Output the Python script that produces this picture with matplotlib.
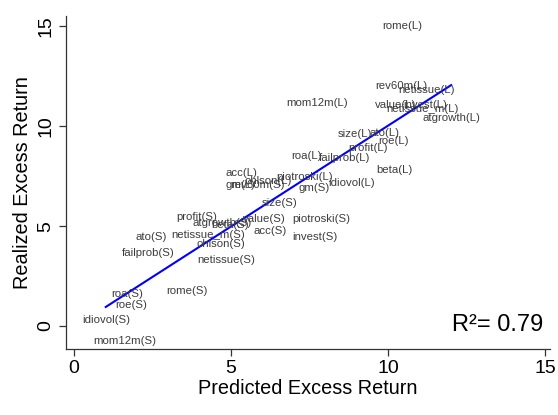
import matplotlib
matplotlib.use("Agg")
import matplotlib.pyplot as plt
import numpy as np

plt.rcParams['font.family'] = ['Liberation Sans', 'DejaVu Sans']

labels = ["rome(L)", "rev60m(L)", "netissue(L)", "mom12m(L)", "value(L)", "invest(L)",
          "netissue_m(L)", "atgrowth(L)", "size(L)", "ato(L)", "roe(L)", "profit(L)",
          "roa(L)", "failprob(L)", "beta(L)", "piotroski(L)", "idiovol(L)", "acc(L)",
          "gm(L)", "ohlson(L)",
          "rev60m(S)", "gm(S)", "size(S)", "profit(S)", "atgrowth(S)", "beta(S)",
          "value(S)", "piotroski(S)", "acc(S)", "invest(S)", "ato(S)", "netissue_m(S)",
          "ohlson(S)", "failprob(S)", "netissue(S)", "roa(S)", "rome(S)", "roe(S)",
          "idiovol(S)", "mom12m(S)"]
predicted = [10.45, 10.41, 11.24, 7.74, 10.25, 11.18,
             11.11, 12.01, 8.95, 9.90, 10.19, 9.36,
             7.42, 8.63, 10.19, 7.36, 8.85, 5.35,
             5.29, 6.18,
             5.86, 7.64, 6.56, 3.92, 4.71, 4.97,
             6.08, 7.87, 6.24, 7.68, 2.48, 4.27,
             4.68, 2.36, 4.84, 1.69, 3.60, 1.82,
             1.02, 1.62]
realized = [15.00, 12.00, 11.80, 11.15, 11.05, 11.05,
            10.85, 10.40, 9.60, 9.65, 9.25, 8.90,
            8.50, 8.40, 7.80, 7.45, 7.15, 7.65,
            7.05, 7.25,
            7.05, 6.90, 6.15, 5.45, 5.15, 5.05,
            5.35, 5.35, 4.75, 4.45, 4.45, 4.55,
            4.10, 3.65, 3.30, 1.60, 1.75, 1.05,
            0.30, -0.75]
ticks = [0, 5, 10, 15]
r2_text = "0.79"

fig = plt.figure(figsize=(5.58, 4.15), dpi=100)
ax = fig.add_axes([0.118, 0.159, 0.868, 0.802])

x = np.array(predicted)
y = np.array(realized)
for lab, xi, yi in zip(labels, x, y):
    ax.text(xi, yi, lab, ha='center', va='center', fontsize=8.2, color='#3c3c3c')

b, a = np.polyfit(x, y, 1)
xx = np.array([x.min(), x.max()])
ax.plot(xx, a + b * xx, color='#0000ff', lw=1.5)

ax.set_xlim(-0.25, 15.16)
ax.set_ylim(-1.15, 15.5)
ax.set_xticks(ticks)
ax.set_yticks(ticks)
ax.set_xticklabels([str(t) for t in ticks], fontsize=14)
ax.set_yticklabels([str(t) for t in ticks], fontsize=14, rotation=90, va='center')
ax.spines['top'].set_visible(False)
ax.spines['right'].set_visible(False)
for s in ['left', 'bottom']:
    ax.spines[s].set_color('#333333')
    ax.spines[s].set_linewidth(0.9)
ax.tick_params(direction='out', length=5, width=0.9, color='#333333', pad=3)
ax.set_xlabel("Predicted Excess Return", fontsize=14.3, labelpad=1)
ax.set_ylabel("Realized Excess Return", fontsize=14.3, labelpad=4)

ax.text(0.985, 0.072, "R\u00b2= " + r2_text, transform=ax.transAxes, ha='right', va='center',
        fontsize=17)

fig.savefig("out.png", dpi=100)
